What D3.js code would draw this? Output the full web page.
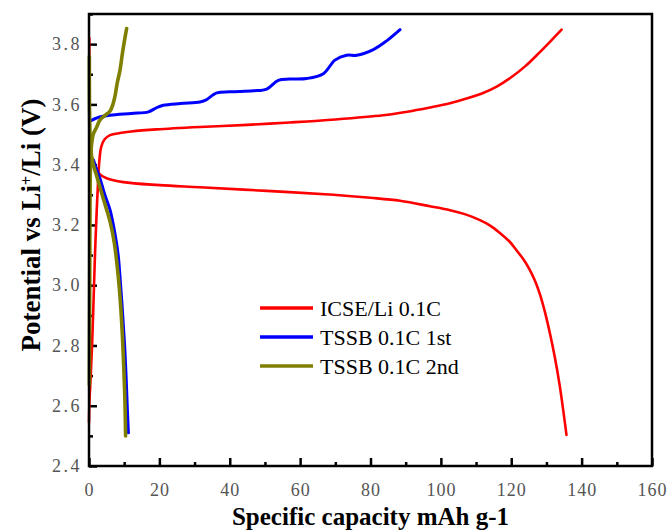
<!DOCTYPE html>
<html>
<head>
<meta charset="utf-8">
<script src="https://cdn.jsdelivr.net/npm/d3@7"></script>
<style>
  body { margin: 0; background: #fff; }
  svg { display: block; }
</style>
</head>
<body>
<svg id="chart" width="668" height="530"></svg>
<script>
// series names / colours for the legend
const seriesNames = ["ICSE/Li 0.1C", "TSSB 0.1C 1st", "TSSB 0.1C 2nd"];
const seriesColors = ["#ff0000", "#0000ff", "#808000"];

// [capacity mAh/g, potential V]
const icseCharge = [[0,2.545],[0.15,2.62],[0.5,2.70],[0.9,2.81],[1.3,2.95],[1.7,3.1],[2.2,3.25],[2.6,3.35],[3.0,3.42],[3.5,3.46],[4.5,3.485],[6,3.498],[8.8,3.505],[12,3.51],[19.2,3.517],[31.5,3.525],[45,3.532],[57,3.54],[70,3.55],[83.6,3.564],[90,3.575],[96.9,3.59],[102.6,3.604],[108,3.622],[112,3.638],[116,3.66],[120,3.69],[124,3.727],[128,3.772],[131.2,3.81],[134.3,3.848]];
const icseDischarge = [[0.1,3.82],[0.1,3.64],[0.2,3.50],[0.5,3.44],[1.2,3.41],[2.0,3.39],[3.1,3.368],[5,3.355],[9.75,3.342],[20,3.332],[31.5,3.325],[50.5,3.313],[69.4,3.30],[80,3.29],[88.4,3.28],[96.9,3.262],[102.6,3.249],[107,3.235],[111.1,3.216],[114,3.198],[116.8,3.173],[119.5,3.145],[121.5,3.116],[123.5,3.085],[125.3,3.05],[126.8,3.013],[128.2,2.968],[129.6,2.91],[131,2.84],[132.4,2.76],[133.8,2.665],[135.7,2.503]];
const tssb1Charge = [[0.2,3.544],[3,3.558],[6,3.564],[12,3.57],[16.9,3.575],[19,3.588],[21.1,3.597],[26,3.603],[31.5,3.608],[33,3.613],[36.3,3.638],[40,3.642],[46.7,3.645],[50.5,3.651],[53.8,3.68],[57,3.684],[61.9,3.686],[66.6,3.702],[69.9,3.747],[73.2,3.763],[76.1,3.763],[80.8,3.782],[84.5,3.81],[88.4,3.848]];
const tssb1Discharge = [[1.3,3.415],[2,3.39],[3.1,3.355],[4.5,3.30],[6,3.249],[7.4,3.17],[8.3,3.10],[8.8,3.03],[9.3,2.95],[9.8,2.86],[10.2,2.785],[10.6,2.68],[10.9,2.59],[11.2,2.51]];
const tssb2Charge = [[0.1,2.67],[0.2,3.0],[0.3,3.3],[0.6,3.45],[1.2,3.50],[2.2,3.525],[3.1,3.548],[4.5,3.563],[6,3.578],[6.8,3.60],[7.4,3.628],[8.0,3.67],[8.8,3.713],[9.5,3.77],[10.2,3.82],[10.7,3.852]];
const tssb2Discharge = [[0.1,3.76],[0.2,3.55],[0.5,3.45],[1.2,3.40],[2,3.37],[3,3.33],[4.5,3.27],[6,3.21],[7.2,3.14],[8.3,3.03],[9.0,2.93],[9.5,2.83],[9.9,2.72],[10.2,2.62],[10.4,2.50]];

const curves = [
  { data: icseCharge, s: 0 }, { data: icseDischarge, s: 0 },
  { data: tssb1Charge, s: 1 }, { data: tssb1Discharge, s: 1 },
  { data: tssb2Charge, s: 2 }, { data: tssb2Discharge, s: 2 }
];
const lineWidths = [2.6, 3, 3.6];

const xMajor = [0, 20, 40, 60, 80, 100, 120, 140, 160];
const yMajor = [2.4, 2.6, 2.8, 3.0, 3.2, 3.4, 3.6, 3.8];

const svg = d3.select("#chart");
const margin = { left: 89, right: 16, top: 14, bottom: 64 };
const W = 668, H = 530;

const x = d3.scaleLinear().domain([0, 160]).range([margin.left, W - margin.right]);
const y = d3.scaleLinear().domain([2.4, 3.9]).range([H - margin.bottom, margin.top]);

const serif = "'Liberation Serif', 'DejaVu Serif', serif";

// minor ticks
const xMinor = d3.range(10, 160, 20);
const yMinor = d3.range(2.5, 3.95, 0.2).map(v => +v.toFixed(1));

svg.append("g")
  .attr("transform", `translate(0,${y(2.4)})`)
  .call(d3.axisBottom(x).tickValues(xMinor).tickSize(-4).tickFormat(""))
  .call(g => g.select(".domain").remove());
svg.append("g")
  .attr("transform", `translate(${x(0)},0)`)
  .call(d3.axisLeft(y).tickValues(yMinor).tickSize(-4).tickFormat(""))
  .call(g => g.select(".domain").remove());

const xAxis = svg.append("g")
  .attr("transform", `translate(0,${y(2.4)})`)
  .call(d3.axisBottom(x).tickValues(xMajor).tickSize(-8).tickPadding(17).tickFormat(d3.format("d")));
xAxis.select(".domain").remove();

const yAxis = svg.append("g")
  .attr("transform", `translate(${x(0)},0)`)
  .call(d3.axisLeft(y).tickValues(yMajor).tickSize(-8).tickPadding(17).tickFormat(d3.format(".1f")));
yAxis.select(".domain").remove();

svg.selectAll(".tick line").attr("stroke", "#000").attr("stroke-width", 2.5);
svg.selectAll(".tick text")
  .style("font-family", serif)
  .style("font-size", "18px")
  .attr("fill", "#555");
yAxis.selectAll(".tick text").style("letter-spacing", "2.5px").attr("x", -7);
xAxis.selectAll(".tick text").style("letter-spacing", "1px");

// curves
const line = d3.line()
  .x(d => x(d[0]))
  .y(d => y(d[1]))
  .curve(d3.curveCatmullRom.alpha(0.5));

svg.append("g").selectAll("path")
  .data(curves)
  .join("path")
  .attr("d", d => line(d.data))
  .attr("fill", "none")
  .attr("stroke", d => seriesColors[d.s])
  .attr("stroke-width", d => lineWidths[d.s])
  .attr("stroke-linejoin", "round")
  .attr("stroke-linecap", "round");

// frame
svg.append("rect")
  .attr("x", x(0))
  .attr("y", y(3.9))
  .attr("width", x(160) - x(0))
  .attr("height", y(2.4) - y(3.9))
  .attr("fill", "none")
  .attr("stroke", "#000")
  .attr("stroke-width", 2.5);

// legend
const legend = svg.append("g").attr("transform", "translate(260,308)");
seriesNames.forEach((name, i) => {
  const row = legend.append("g").attr("transform", `translate(0,${i * 29})`);
  row.append("line")
    .attr("x1", 0).attr("x2", 53)
    .attr("stroke", seriesColors[i])
    .attr("stroke-width", 3.5);
  row.append("text")
    .attr("x", 60)
    .attr("y", 7.5)
    .style("font-family", serif)
    .style("font-size", "22px")
    .attr("fill", "#000")
    .text(name);
});

// axis titles
svg.append("text")
  .attr("x", x(80))
  .attr("y", 525)
  .attr("text-anchor", "middle")
  .style("font-family", serif)
  .style("font-size", "25px")
  .style("font-weight", "bold")
  .text("Specific capacity mAh g-1");

const yTitle = svg.append("text")
  .attr("transform", `translate(40,${225}) rotate(-90)`)
  .attr("text-anchor", "middle")
  .style("font-family", serif)
  .style("font-size", "27px")
  .style("font-weight", "bold");
yTitle.append("tspan").text("Potential vs Li");
yTitle.append("tspan").attr("baseline-shift", "super").style("font-size", "16px").text("+");
yTitle.append("tspan").text("/Li (V)");
</script>
</body>
</html>
